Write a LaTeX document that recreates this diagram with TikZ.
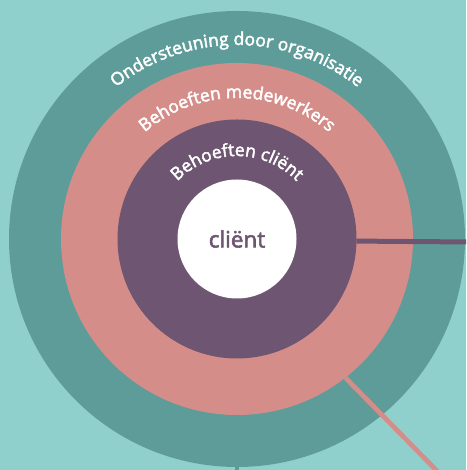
\documentclass[tikz,border=0pt]{standalone}
\usepackage{fontspec}
\setmainfont{Open Sans}
\newfontfamily\lblfont[FakeBold=2.5]{Open Sans}
\usetikzlibrary{decorations.text}
\definecolor{bgcol}{HTML}{8FD0CD}
\definecolor{tealcol}{HTML}{5E9C99}
\definecolor{pinkcol}{HTML}{D58D89}
\definecolor{purplecol}{HTML}{6E5672}
\tikzset{
  ring/.style={circle, inner sep=0pt, outer sep=0pt, draw=none},
  arclabel/.style={decorate, decoration={text along path, text align=center,
     text={|\lblfont\fontsize{17.5}{20}\selectfont\color{white}|#1}}}
}
\begin{document}
\begin{tikzpicture}[x=1pt, y=1pt]
\fill[bgcol] (0,0) rectangle (466,470);
\useasboundingbox (0,0) rectangle (466,470);
\clip (0,0) rectangle (466,470);
\coordinate (c) at (237,231);
\node[ring, fill=tealcol, minimum size=456pt] (outer) at (c) {};
\coordinate (tealend) at (237,-5);
\draw[tealcol, line width=4pt] (outer.south) -- (tealend);
\node[ring, fill=pinkcol, minimum size=352pt] (mid) at (c) {};
\coordinate (pinkend) at (441,-5);
\draw[pinkcol, line width=4.7pt] (mid.-52.8) -- (pinkend);
\node[ring, fill=purplecol, minimum size=239pt] (inner) at (c) {};
\coordinate (purpleend) at (470,228);
\draw[purplecol, line width=5pt] (inner.-1.4) -- (purpleend);
\node[ring, fill=white, minimum size=119pt, text=purplecol, font=\lblfont\fontsize{22.5}{26}\selectfont] (client) at (c) {cliënt};
\path[arclabel={Ondersteuning door organisatie}] (c) ++(165:194) arc[start angle=165, end angle=15, radius=194];
\path[arclabel={Behoeften medewerkers}] (c) ++(165:141) arc[start angle=165, end angle=15, radius=141];
\path[arclabel={Behoeften cliënt}] (c) ++(170:83) arc[start angle=170, end angle=10, radius=83];
\end{tikzpicture}
\end{document}
